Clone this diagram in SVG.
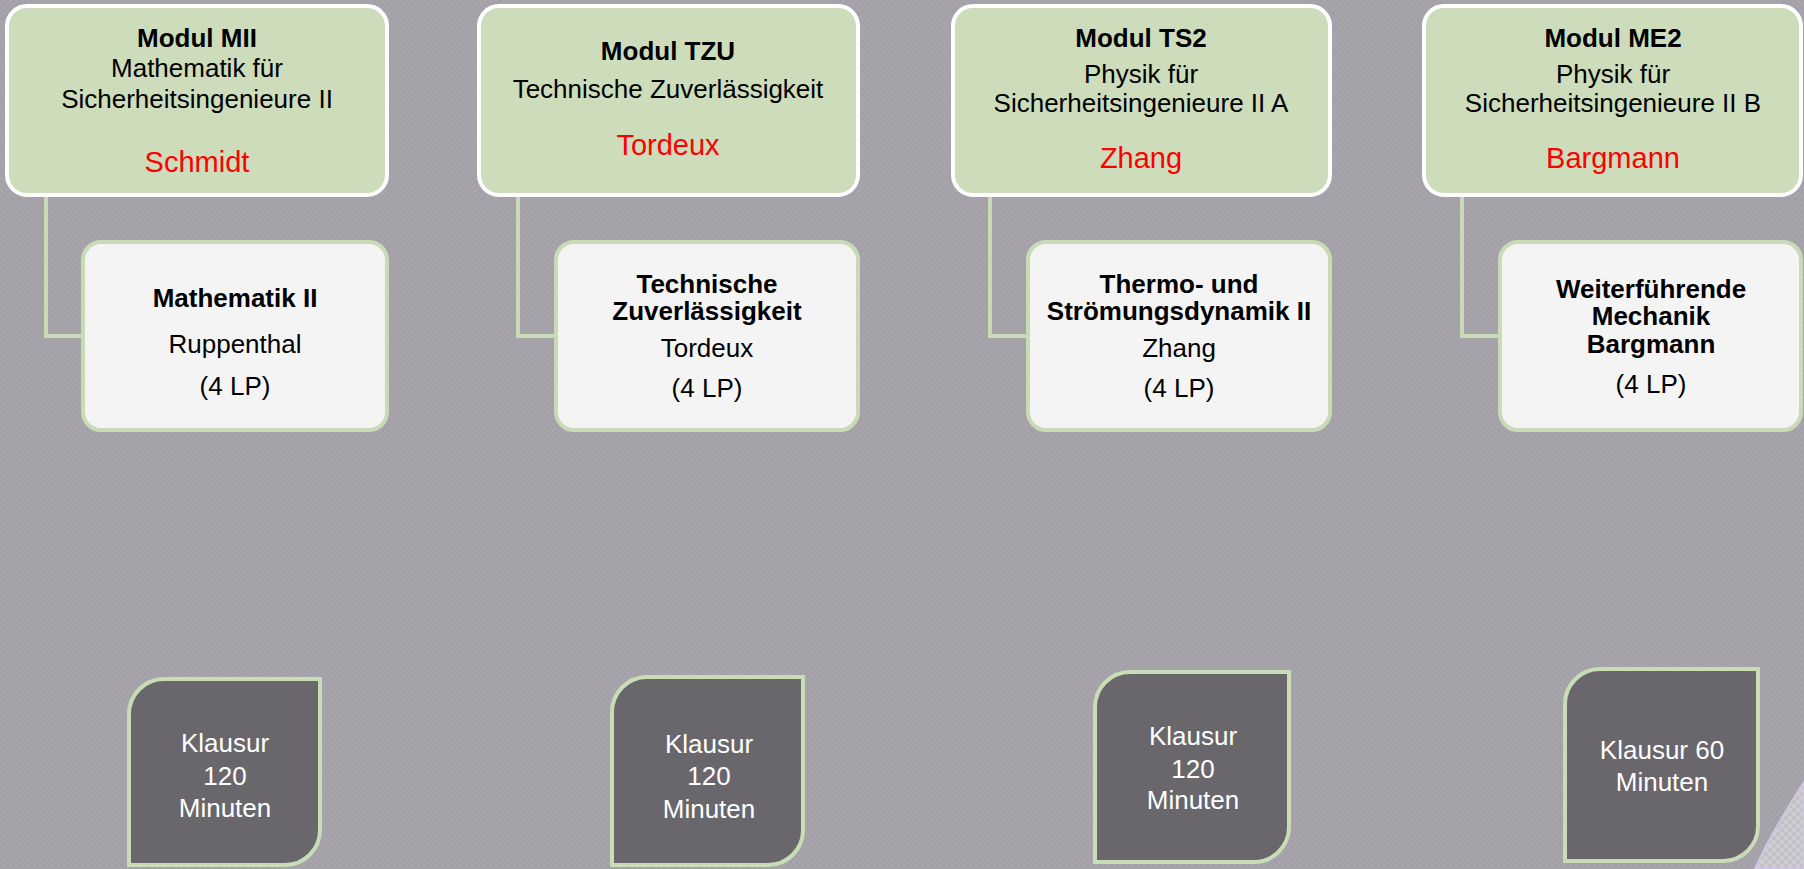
<svg xmlns="http://www.w3.org/2000/svg" width="1804" height="869" viewBox="0 0 1804 869">
<defs>
<pattern id="bg" width="6" height="6" patternUnits="userSpaceOnUse">
<rect width="6" height="6" fill="#a8a4ac"/>
<rect width="3" height="3" fill="#a4a0a8"/>
<rect x="3" y="3" width="3" height="3" fill="#a4a0a8"/>
</pattern>
<pattern id="bg2" width="8" height="8" patternUnits="userSpaceOnUse">
<rect width="8" height="8" fill="#cfccd2"/>
<rect width="4" height="4" fill="#c4c1c8"/>
<rect x="4" y="4" width="4" height="4" fill="#c4c1c8"/>
</pattern>
</defs>
<style>
.mod{fill:#cddcbb;stroke:#ffffff;stroke-width:4}
.sub{fill:#f4f4f4;stroke:#c8dbb6;stroke-width:4}
.ex{fill:#69666c;stroke:#c8dcb6;stroke-width:4}
.conn{fill:none;stroke:#c8dbb6;stroke-width:4}
text{font-family:"Liberation Sans",Arial,sans-serif;font-size:26px;text-anchor:middle;fill:#000}
.b{font-weight:bold}
.red{fill:#ff0000;font-size:29px}
.w{fill:#ffffff}
</style>
<rect width="1804" height="869" fill="url(#bg)"/>
<path d="M1804 782 Q1770 835 1755 869 H1804 Z" fill="url(#bg2)" stroke="#cfc6e6" stroke-width="2"/>

<g id="connectors">
<path class="conn" d="M46 196 V336 H83"/>
<path class="conn" d="M518 196 V336 H556"/>
<path class="conn" d="M990 196 V336 H1028"/>
<path class="conn" d="M1462 196 V336 H1500"/>
</g>

<g id="modMII">
<rect class="mod" x="7" y="6" width="380" height="189" rx="20"/>
<text class="b" x="197" y="47">Modul MII</text>
<text x="197" y="77">Mathematik für</text>
<text x="197" y="108">Sicherheitsingenieure II</text>
<text class="red" x="197" y="172">Schmidt</text>
</g>
<g id="modTZU">
<rect class="mod" x="479" y="6" width="379" height="189" rx="20"/>
<text class="b" x="668" y="60">Modul TZU</text>
<text x="668" y="98">Technische Zuverlässigkeit</text>
<text class="red" x="668" y="155">Tordeux</text>
</g>
<g id="modTS2">
<rect class="mod" x="953" y="6" width="377" height="189" rx="20"/>
<text class="b" x="1141" y="47">Modul TS2</text>
<text x="1141" y="83">Physik für</text>
<text x="1141" y="112">Sicherheitsingenieure II A</text>
<text class="red" x="1141" y="168">Zhang</text>
</g>
<g id="modME2">
<rect class="mod" x="1424" y="6" width="377" height="189" rx="20"/>
<text class="b" x="1613" y="47">Modul ME2</text>
<text x="1613" y="83">Physik für</text>
<text x="1613" y="112">Sicherheitsingenieure II B</text>
<text class="red" x="1613" y="168">Bargmann</text>
</g>

<g id="subMath">
<rect class="sub" x="83" y="242" width="304" height="188" rx="18"/>
<text class="b" x="235" y="307">Mathematik II</text>
<text x="235" y="353">Ruppenthal</text>
<text x="235" y="395">(4 LP)</text>
</g>
<g id="subTZ">
<rect class="sub" x="556" y="242" width="302" height="188" rx="18"/>
<text class="b" x="707" y="293">Technische</text>
<text class="b" x="707" y="320">Zuverlässigkeit</text>
<text x="707" y="357">Tordeux</text>
<text x="707" y="397">(4 LP)</text>
</g>
<g id="subTS">
<rect class="sub" x="1028" y="242" width="302" height="188" rx="18"/>
<text class="b" x="1179" y="293">Thermo- und</text>
<text class="b" x="1179" y="320">Strömungsdynamik II</text>
<text x="1179" y="357">Zhang</text>
<text x="1179" y="397">(4 LP)</text>
</g>
<g id="subME">
<rect class="sub" x="1500" y="242" width="301" height="188" rx="18"/>
<text class="b" x="1651" y="298">Weiterführende</text>
<text class="b" x="1651" y="325">Mechanik</text>
<text class="b" x="1651" y="353">Bargmann</text>
<text x="1651" y="393">(4 LP)</text>
</g>

<g id="exam1">
<path class="ex" d="M129 865 V714 A35 35 0 0 1 164 679 H320 V830 A35 35 0 0 1 285 865 Z"/>
<text class="w" x="225" y="752">Klausur</text>
<text class="w" x="225" y="785">120</text>
<text class="w" x="225" y="817">Minuten</text>
</g>
<g id="exam2">
<path class="ex" d="M612 865 V712 A35 35 0 0 1 647 677 H803 V830 A35 35 0 0 1 768 865 Z"/>
<text class="w" x="709" y="753">Klausur</text>
<text class="w" x="709" y="785">120</text>
<text class="w" x="709" y="818">Minuten</text>
</g>
<g id="exam3">
<path class="ex" d="M1095 862 V707 A35 35 0 0 1 1130 672 H1289 V827 A35 35 0 0 1 1254 862 Z"/>
<text class="w" x="1193" y="745">Klausur</text>
<text class="w" x="1193" y="778">120</text>
<text class="w" x="1193" y="809">Minuten</text>
</g>
<g id="exam4">
<path class="ex" d="M1565 861 V704 A35 35 0 0 1 1600 669 H1758 V826 A35 35 0 0 1 1723 861 Z"/>
<text class="w" x="1662" y="759">Klausur 60</text>
<text class="w" x="1662" y="791">Minuten</text>
</g>
</svg>
